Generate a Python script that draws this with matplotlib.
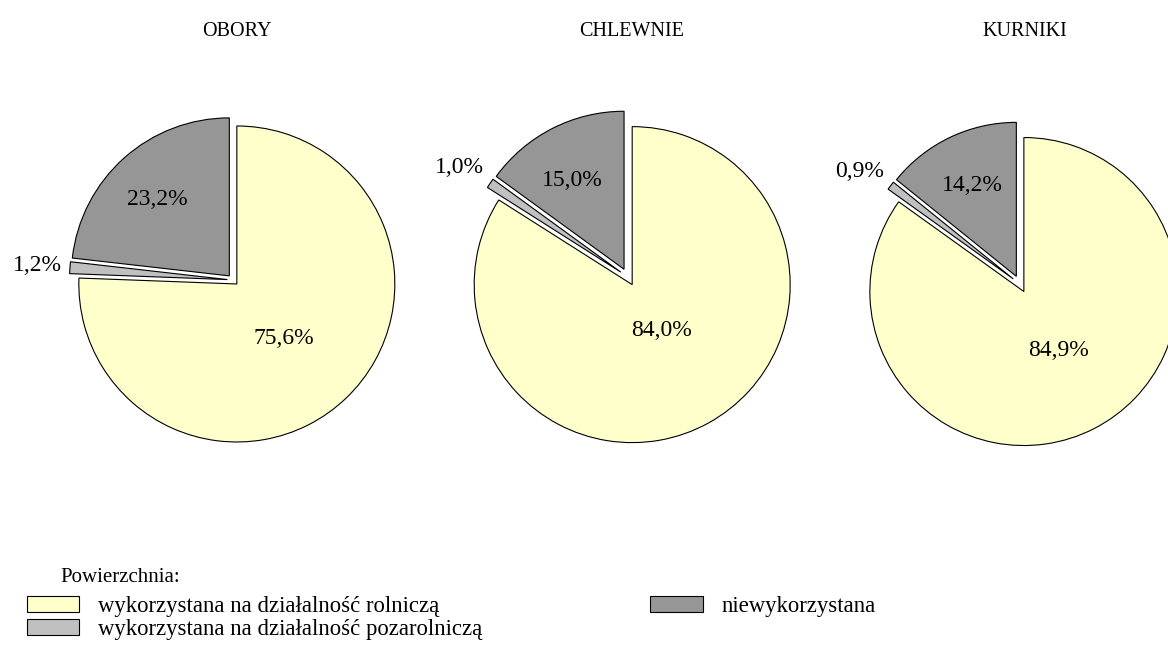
import matplotlib
matplotlib.use("Agg")
import matplotlib.pyplot as plt

plt.rcParams['font.family'] = ['Liberation Serif', 'DejaVu Serif']

# data
titles = ["OBORY", "CHLEWNIE", "KURNIKI"]
categories = ["wykorzystana na działalność rolniczą",
              "wykorzystana na działalność pozarolniczą",
              "niewykorzystana"]
obory = [75.6, 1.2, 23.2]
chlewnie = [84.0, 1.0, 15.0]
kurniki = [84.9, 0.9, 14.2]
colors = ["#FFFFCC", "#C0C0C0", "#969696"]

# layout (pixels, top-left origin) for each pie
W, H = 1168, 651
centers = [(233, 280), (628, 277), (1020, 284)]
radii = [158, 158, 154]
explodes = [0.035, 0.055, 0.055]
title_x = [237, 632, 1025]
# label positions in pie radius units: [main, small, rest]
label_pos = [
    [(0.32, -0.37), (-1.24, 0.09), (-0.48, 0.51)],
    [(0.21, -0.34), (-1.07, 0.69), (-0.35, 0.61)],
    [(0.25, -0.43), (-1.04, 0.73), (-0.31, 0.64)],
]

fig = plt.figure(figsize=(W / 100, H / 100), dpi=100)
L = 1.3
wedges_all = []
for i, vals in enumerate([obory, chlewnie, kurniki]):
    cx, cy = centers[i]
    r = radii[i]
    ax = fig.add_axes([(cx - L * r) / W, (H - cy - L * r) / H, 2 * L * r / W, 2 * L * r / H])
    wedges, _ = ax.pie(vals, colors=colors, startangle=90, counterclock=False,
                       explode=[explodes[i]] * 3,
                       wedgeprops=dict(edgecolor="black", linewidth=0.8))
    ax.set_xlim(-L, L)
    ax.set_ylim(-L, L)
    ax.axis('off')
    wedges_all.append(wedges)
    for v, (x, y) in zip(vals, label_pos[i]):
        ax.text(x, y, f"{v:.1f}%".replace(".", ","), ha="center", va="center", fontsize=17)
    fig.text(title_x[i] / W, 1 - 32 / H, titles[i], ha="center", va="center", fontsize=14.5)

fig.text(60 / W, 1 - 577 / H, "Powierzchnia:", ha="left", va="center", fontsize=15)
fig.legend(wedges_all[0], categories, ncol=2, loc="upper left",
           bbox_to_anchor=(27 / W, 1 - 596 / H), frameon=False, fontsize=16.4,
           borderpad=0, handlelength=2.3, handleheight=0.7, handletextpad=0.8,
           labelspacing=0.1, columnspacing=7.4, borderaxespad=0)

fig.savefig("out.png", dpi=100)
